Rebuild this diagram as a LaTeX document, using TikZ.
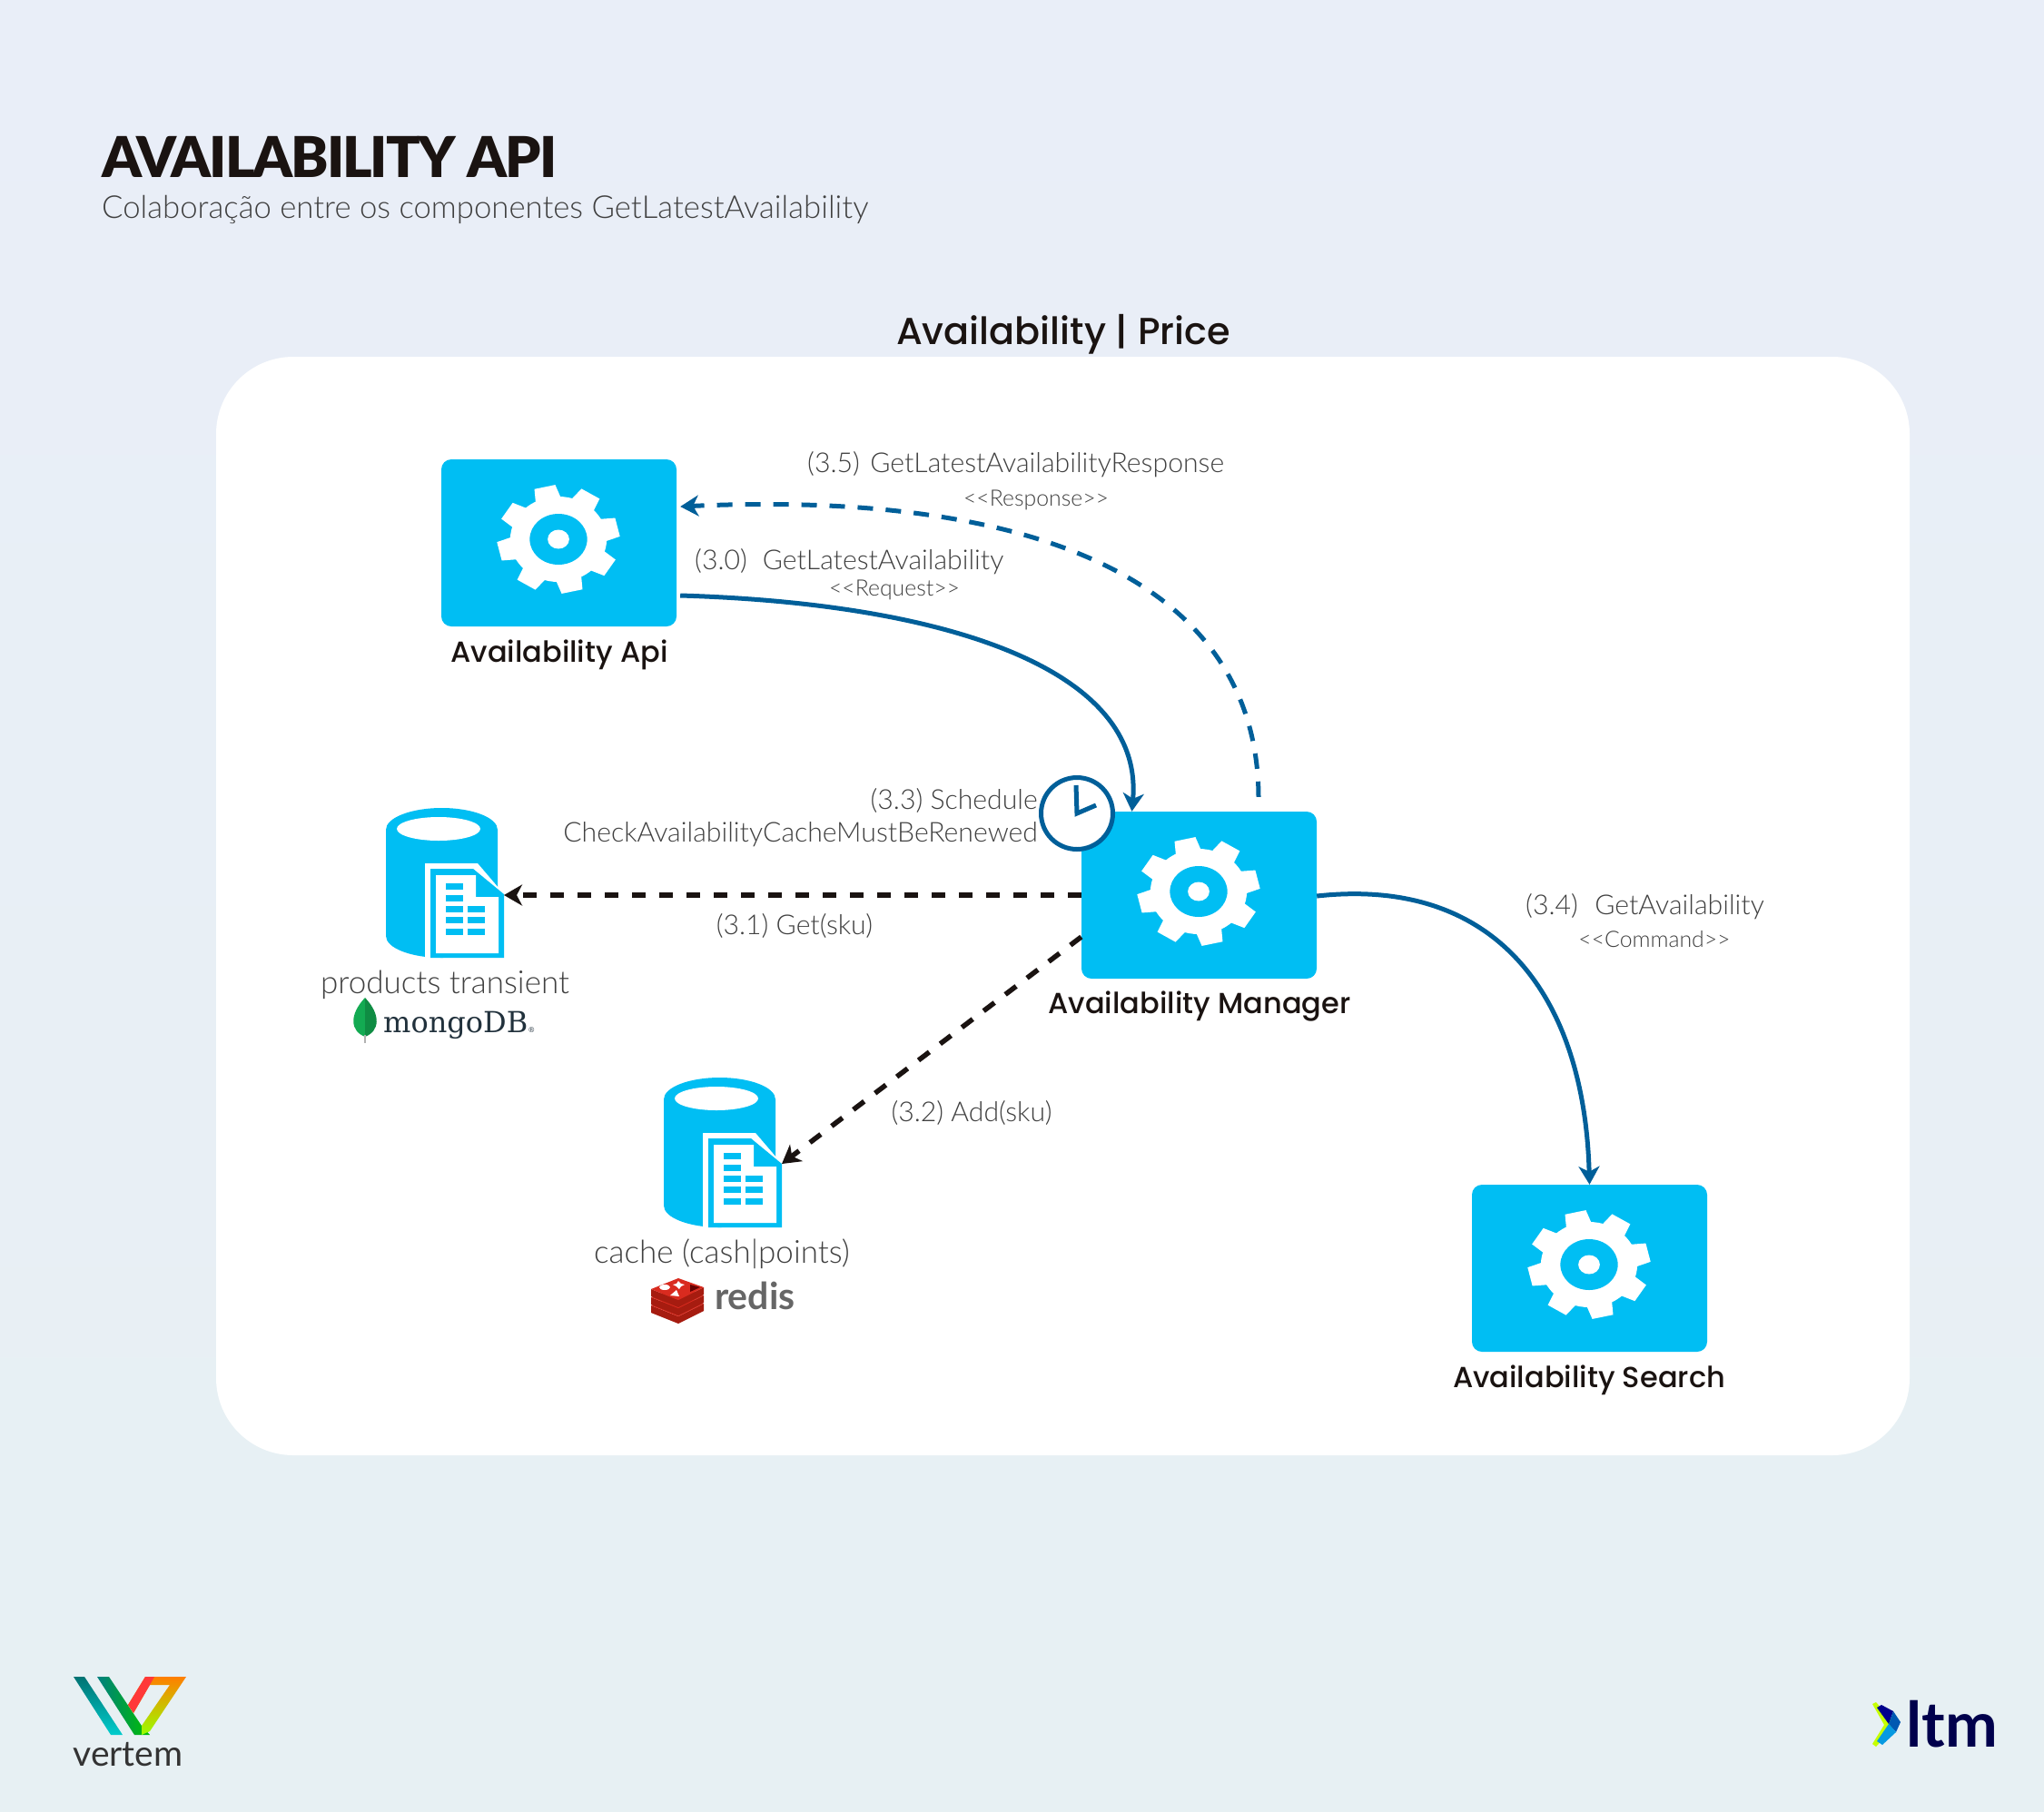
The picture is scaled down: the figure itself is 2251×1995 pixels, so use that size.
\documentclass[tikz,border=0pt]{standalone}
\usepackage{fontspec}
\setmainfont{Lato Light}
\newfontfamily\headfont{Lato}
\newfontfamily\titlefont{Lato Black}[LetterSpace=-3.3]
\newfontfamily\boxfont{Poppins Medium}
\newfontfamily\slabfont{DejaVu Serif}
\usetikzlibrary{arrows.meta,calc}
\definecolor{bgtop}{HTML}{E9EEF8}
\definecolor{bgbot}{HTML}{E7F0F3}
\definecolor{svcblue}{HTML}{00BEF3}
\definecolor{flowblue}{HTML}{005F99}
\definecolor{inkblack}{HTML}{1A1311}
\definecolor{lblgrey}{HTML}{404040}
\definecolor{leafgreen}{HTML}{13AA52}
\definecolor{leafdark}{HTML}{0F8C43}
\definecolor{mongoink}{HTML}{21313C}
\definecolor{redistop}{HTML}{D92B1F}
\definecolor{redisside}{HTML}{A61C10}
\tikzset{
	svcbox/.style={fill=svcblue, rounded corners=11pt, minimum width=259pt, minimum height=184pt, inner sep=0pt},
	boxlbl/.style={anchor=base, inner sep=0pt, text=inkblack, font=\boxfont\fontsize{32}{38}\selectfont},
	msglbl/.style={inner sep=0pt, text=lblgrey, font=\fontsize{30.2}{38}\selectfont},
	storelbl/.style={anchor=base, inner sep=0pt, text=lblgrey, font=\fontsize{35}{40}\selectfont},
	stereolbl/.style={anchor=base, inner sep=0pt, text=lblgrey, font=\fontsize{24.8}{30}\selectfont},
	flowline/.style={draw=flowblue, line width=5pt, -{Stealth[length=20pt,width=23pt,inset=6pt]}},
	getline/.style={draw=inkblack, line width=5.5pt, dash pattern=on 15pt off 15pt, -{Stealth[length=20pt,width=23pt,inset=6pt]}},
}
\def\gearicon(#1,#2){
	\begin{scope}[shift={(#1,#2)}, xscale=1.13]
		\fill[white] (0,0) circle (47);
		\foreach \a in {-13,32,77,122,167,212,257,302}
			\fill[white] ({\a-17}:44) -- ({\a-10}:60) -- ({\a+10}:60) -- ({\a+17}:44) -- cycle;
		\fill[svcblue] (0,0) circle (28);
		\fill[white] (0,0) circle (10.5);
	\end{scope}
}
\def\dbicon(#1,#2)#3{
	\begin{scope}[shift={(#1,#2)}]
		\fill[svcblue] (0,24) arc (180:360:61.5 and 24) -- (123,141) arc (0:180:61.5 and 24) -- cycle;
		\fill[white] (58,23) ellipse (46 and 13);
		\fill[white] (43,61) -- (101,61) -- (130,95) -- (130,165) -- (43,165) -- cycle;
		\fill[svcblue] (49,67) -- (96,67) -- (130,95) -- (130,165) -- (49,165) -- cycle;
		\fill[white] (55,74) -- (99,74) -- (99,98) -- (124,98) -- (124,160) -- (55,160) -- cycle;
		\foreach \y in {83,96,108,120,133}
			\fill[svcblue] (66,\y) rectangle (85,\y+6.5);
		\foreach \y in {108,120,133}
			\fill[svcblue] (90,\y) rectangle (109,\y+6.5);
		\coordinate (#3) at (130,95);
	\end{scope}
}
\begin{document}
\begin{tikzpicture}[x=1pt,y=-1pt]
	%%%%% START %%%%%
	\useasboundingbox (0,0) rectangle (2251,1995);
	\shade[top color=bgtop, bottom color=bgbot] (0,0) rectangle (2251,1995);
	\fill[white, rounded corners=85pt] (238,393) rectangle (2103,1603);

	% heading
	\node (pagetitle) [anchor=base west, inner sep=0pt, text=inkblack, font=\titlefont\fontsize{62}{70}\selectfont] at (112,195) {AVAILABILITY API};
	\node (pagesub) [anchor=base west, inner sep=0pt, text=lblgrey, font=\fontsize{34.7}{42}\selectfont] at (112,240) {Colaboração entre os componentes GetLatestAvailability};
	\node (paneltitle) [anchor=base, inner sep=0pt, text=inkblack, font=\boxfont\fontsize{41.4}{50}\selectfont] at (1171,379) {Availability | Price};

	% services
	\node (api) [svcbox] at (615.5,598) {};
	\gearicon(615,594)
	\node (apilbl) [boxlbl] at (616,729.5) {Availability Api};

	\node (manager) [svcbox] at (1320.5,986) {};
	\gearicon(1320,982)
	\node (managerlbl) [boxlbl] at (1321,1116.5) {Availability Manager};

	\node (search) [svcbox] at (1750.5,1397) {};
	\gearicon(1750,1393)
	\node (searchlbl) [boxlbl] at (1750,1528.5) {Availability Search};

	% stores
	\dbicon(425,890){mongotip}
	\node (mongolbl) [storelbl] at (490,1094) {products transient};
	\dbicon(731,1187){cachetip}
	\node (cachelbl) [storelbl] at (795,1391) {cache (cash|points)};

	% mongodb mark
	\fill[leafgreen] (402,1099) .. controls (384,1118) and (386,1136) .. (402,1142) -- cycle;
	\fill[leafdark] (402,1099) .. controls (420,1118) and (418,1136) .. (402,1142) -- cycle;
	\draw[black!30, line width=2pt] (402,1140) -- (402,1149);
	\node (mongomark) [anchor=base west, inner sep=0pt, text=mongoink, font=\slabfont\fontsize{32}{36}\selectfont] at (422,1137) {mongoDB{\fontsize{8}{8}\selectfont ®}};

	% redis mark
	\foreach \y in {18,9,0} {
		\fill[redisside] (717,1420+\y) -- (717,1428+\y) -- (747,1440+\y) -- (775,1426+\y) -- (775,1418+\y) -- (747,1432+\y) -- cycle;
		\fill[redistop] (717,1420+\y) -- (747,1408+\y) -- (775,1418+\y) -- (747,1432+\y) -- cycle;
	}
	\fill[white] (732,1418) ellipse (6 and 3);
	\fill[white] (747,1411) -- (750,1414) -- (754,1415) -- (750,1417) -- (748,1420) -- (745,1417) -- (741,1415) -- (745,1414) -- cycle;
	\fill[white] (745,1421) -- (748,1428) -- (738,1427) -- cycle;
	\fill[red!40!black] (760,1415) -- (771,1418) -- (760,1423) -- cycle;
	\node (redismark) [anchor=base west, inner sep=0pt, text=black!60, font=\headfont\bfseries\fontsize{41}{46}\selectfont] at (787,1442) {redis};

	% connectors
	\draw[flowline] ([shift={(4,58)}]api.east) .. controls (1050,665) and (1260,740) .. ([xshift=-74pt]manager.north);
	\draw[flowline, dash pattern=on 17pt off 14pt] ([xshift=65.5pt,yshift=16pt]manager.north) .. controls (1385,640) and (1140,540) .. ([shift={(4,-40)}]api.east);
	\draw[flowline] ([yshift=-1pt]manager.east) .. controls (1650,965) and (1745,1100) .. (search.north);
	\draw[getline] (manager.west) -- (mongotip |- manager.west);
	\draw[getline] ([yshift=-46pt]manager.west) -- (cachetip);

	% clock
	\node (timer) [circle, draw=flowblue, fill=white, line width=5pt, minimum size=79pt, inner sep=0pt] at (1186,896) {};
	\draw[flowblue, line width=5pt] (1185,865) -- (timer.center) -- (1207,887);

	% labels
	\node (getresp) [msglbl, anchor=base west] at (889,520) {(3.5)\hspace{11.5pt}GetLatestAvailabilityResponse};
	\node (getrespst) [stereolbl] at (1141,557) {<{}<Response>{}>};
	\node (getreq) [msglbl, anchor=base west] at (765,627) {(3.0)\hspace{17pt}GetLatestAvailability};
	\node (getreqst) [stereolbl] at (985,656) {<{}<Request>{}>};
	\node (schedlbl) [msglbl, anchor=base east] at (1143,891) {(3.3) Schedule};
	\node (checklbl) [msglbl, anchor=base east] at (1143,927) {CheckAvailabilityCacheMustBeRenewed};
	\node (getlbl) [msglbl, anchor=base] at (875,1029) {(3.1) Get(sku)};
	\node (addlbl) [msglbl, anchor=base] at (1070,1235) {(3.2) Add(sku)};
	\node (availlbl) [msglbl, anchor=base west] at (1680,1007) {(3.4)\hspace{18.5pt}GetAvailability};
	\node (availst) [stereolbl] at (1822,1043) {<{}<Command>{}>};

	% vertem mark
	\shade[top color=teal!90!black, bottom color=cyan!60!teal] (81,1847) -- (93,1847) -- (135,1911) -- (122,1911) -- cycle;
	\shade[left color=teal, right color=green!75!black] (107,1847) -- (120,1847) -- (156,1901) -- (165,1911) -- (148,1911) -- cycle;
	\shade[bottom color=lime!80!green, top color=orange] (156,1901) -- (187,1856) -- (165,1856) -- (147,1887) -- (141,1878) -- (160,1847) -- (205,1847) -- (165,1907) -- (156,1911) -- cycle;
	\fill[red!70!pink] (141,1878) -- (160,1847) -- (170,1847) -- (165,1856) -- (147,1887) -- cycle;
	\node (vertemmark) [anchor=base, inner sep=0pt, text=black!80, font=\headfont\fontsize{39}{46}\selectfont] at (141,1945) {vertem};

	% ltm mark
	\fill[lime!90!yellow] (2062,1877) -- (2066,1875) -- (2086,1898) -- (2086,1902) -- (2066,1924) -- (2062,1921) -- (2075,1900) -- cycle;
	\fill[blue!55!black] (2067,1881) -- (2072,1878) -- (2085,1885) -- (2080,1899) -- cycle;
	\fill[blue!50!cyan!70!black] (2085,1885) -- (2093,1897) -- (2088,1908) -- (2080,1899) -- cycle;
	\fill[cyan!85!blue] (2080,1899) -- (2088,1908) -- (2073,1922) -- (2067,1918) -- cycle;
	\node (ltmmark) [anchor=base west, inner sep=0pt, text=blue!30!black, font=\headfont\bfseries\fontsize{69}{72}\selectfont] at (2099,1924) {ltm};
	%%%%% END %%%%%
\end{tikzpicture}
\end{document}
